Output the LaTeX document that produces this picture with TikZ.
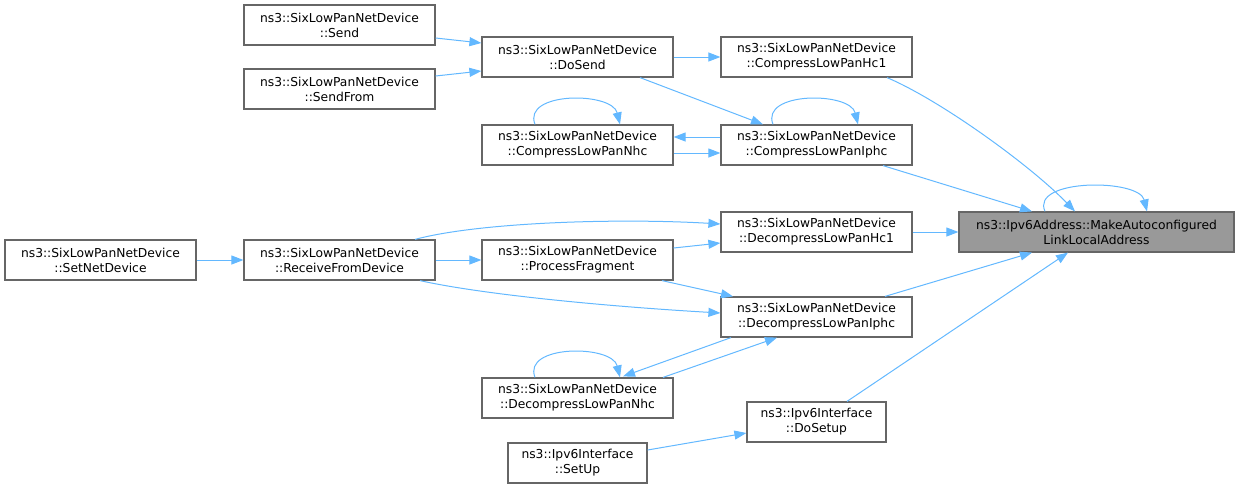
\documentclass[tikz,border=0pt]{standalone}
\usepackage{fontspec}
\setmainfont{DejaVu Sans}
\usetikzlibrary{arrows.meta,calc}
\definecolor{edgec}{HTML}{63B8FF}
\definecolor{boxc}{HTML}{666666}
\definecolor{targetfill}{HTML}{999999}
\tikzset{
  fn/.style={draw=boxc, line width=1.2pt, fill=white, rectangle, inner sep=0pt,
    minimum height=40pt, align=center, text=black,
    font=\fontsize{12.3pt}{15pt}\selectfont},
  wide/.style={minimum width=191pt},
  narrow/.style={minimum width=139pt},
  call/.style={draw=edgec, line width=1pt, -{Triangle[length=12pt,width=9pt]}},
}
\begin{document}
\begin{tikzpicture}[x=1pt,y=-1pt]
\useasboundingbox (0,0) rectangle (1240,488);
% nodes
\node[fn,wide] (send)     at (339.5,25)  {ns3::SixLowPanNetDevice\\::Send};
\node[fn,wide] (sendfrom) at (339.5,89)  {ns3::SixLowPanNetDevice\\::SendFrom};
\node[fn,wide] (dosend)   at (577.5,57)  {ns3::SixLowPanNetDevice\\::DoSend};
\node[fn,wide] (hc1)      at (816.5,57)  {ns3::SixLowPanNetDevice\\::CompressLowPanHc1};
\node[fn,wide] (cnhc)     at (577.5,145) {ns3::SixLowPanNetDevice\\::CompressLowPanNhc};
\node[fn,wide] (ciphc)    at (816.5,145) {ns3::SixLowPanNetDevice\\::CompressLowPanIphc};
\node[fn,minimum width=275pt,fill=targetfill] (target) at (1096.5,232)
  {ns3::Ipv6Address::MakeAutoconfigured\\LinkLocalAddress};
\node[fn,wide] (dhc1)     at (816.5,232) {ns3::SixLowPanNetDevice\\::DecompressLowPanHc1};
\node[fn,wide] (setnet)   at (100.5,260) {ns3::SixLowPanNetDevice\\::SetNetDevice};
\node[fn,wide] (rfd)      at (339.5,260) {ns3::SixLowPanNetDevice\\::ReceiveFromDevice};
\node[fn,wide] (pf)       at (577.5,260) {ns3::SixLowPanNetDevice\\::ProcessFragment};
\node[fn,wide] (diphc)    at (816.5,317) {ns3::SixLowPanNetDevice\\::DecompressLowPanIphc};
\node[fn,wide] (dnhc)     at (577.5,398) {ns3::SixLowPanNetDevice\\::DecompressLowPanNhc};
\node[fn,narrow] (dosetup) at (816.5,422) {ns3::Ipv6Interface\\::DoSetup};
\node[fn,narrow] (setup)   at (577.5,463) {ns3::Ipv6Interface\\::SetUp};
% edges
\draw[call] ($(send.east)+(0,13)$) -- ($(dosend.west)+(0,-14)$);
\draw[call] ($(sendfrom.east)+(0,-13)$) -- ($(dosend.west)+(0,14)$);
\draw[call] (dosend.east) -- (hc1.west);
\draw[call] ($(dosend.south)+(62.5,0)$) -- ($(ciphc.north)+(-53.5,0)$);
\draw[call] ($(hc1.south)+(70.5,0)$) .. controls (940,100) and (1030,165) .. ($(target.north)+(-21.5,0)$);
\draw[call] ($(ciphc.south)+(66.5,0)$) -- ($(target.north)+(-64.5,0)$);
% self loops
\draw[call] ($(ciphc.north)+(-43.5,0)$) .. controls ($(ciphc.north)+(-56.5,-33)$) and ($(ciphc.north)+(33.5,-33)$) .. ($(ciphc.north)+(41.5,0)$);
\draw[call] ($(cnhc.north)+(-42.5,0)$) .. controls ($(cnhc.north)+(-55.5,-33)$) and ($(cnhc.north)+(34.5,-33)$) .. ($(cnhc.north)+(42.5,0)$);
\draw[call] ($(dnhc.north)+(-42.5,0)$) .. controls ($(dnhc.north)+(-55.5,-33)$) and ($(dnhc.north)+(34.5,-33)$) .. ($(dnhc.north)+(42.5,0)$);
\draw[call] ($(target.north)+(-51.5,0)$) .. controls ($(target.north)+(-66.5,-33)$) and ($(target.north)+(42.5,-33)$) .. ($(target.north)+(50.5,0)$);
% compress pair
\draw[call] ($(ciphc.west)+(0,-8)$) -- ($(cnhc.east)+(0,-8)$);
\draw[call] ($(cnhc.east)+(0,8)$) -- ($(ciphc.west)+(0,8)$);
\draw[call] (dhc1.east) -- (target.west);
\draw[call] (setnet.east) -- (rfd.west);
\draw[call] (rfd.east) -- (pf.west);
\draw[call] ($(rfd.north)+(75.5,0)$) .. controls (480,222) and (620,218) .. ($(dhc1.west)+(0,-8)$);
\draw[call] ($(pf.east)+(0,-12)$) -- ($(dhc1.west)+(0,11)$);
\draw[call] ($(pf.south)+(84.5,0)$) -- ($(diphc.north)+(-83.5,0)$);
\draw[call] ($(rfd.south)+(80.5,0)$) .. controls (480,294) and (600,306) .. ($(diphc.west)+(0,-4)$);
\draw[call] ($(diphc.north)+(68.5,0)$) -- ($(target.south)+(-64.5,0)$);
\draw[call] ($(diphc.south)+(-85.5,0)$) -- ($(dnhc.north)+(45.5,-1)$);
\draw[call] ($(dnhc.north)+(85.5,0)$) -- ($(diphc.south)+(-39.5,0)$);
\draw[call] ($(dosetup.north)+(30.5,0)$) -- ($(target.south)+(-28.5,0)$);
\draw[call] ($(setup.east)+(0,-13)$) -- ($(dosetup.west)+(0,11)$);
\end{tikzpicture}
\end{document}
